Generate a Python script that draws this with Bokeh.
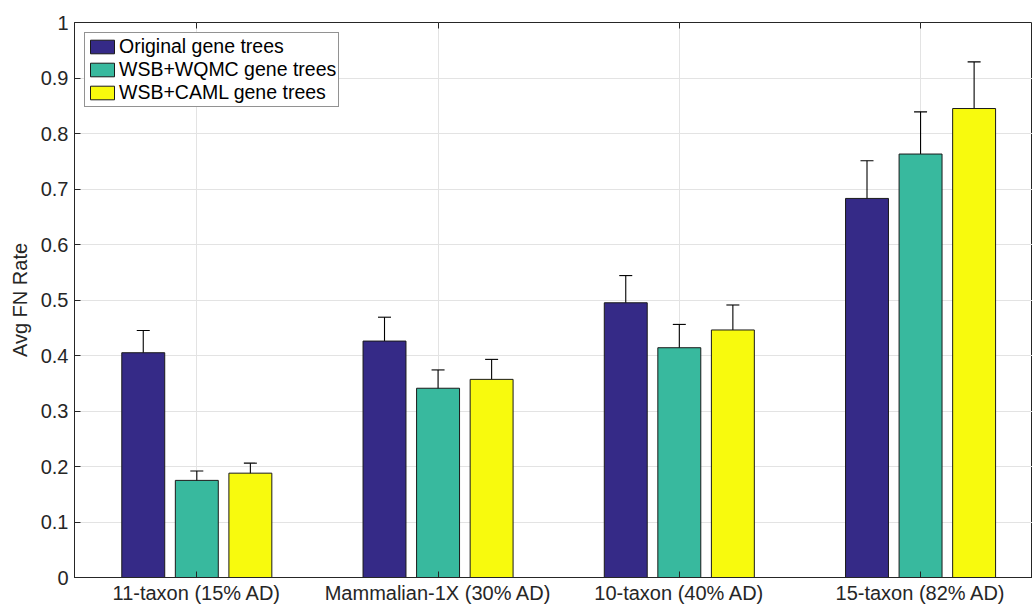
from bokeh.plotting import figure
from bokeh.models import (Range1d, ColumnDataSource, Whisker, TeeHead, Legend, LegendItem,
                          FixedTicker, LinearAxis)
from bokeh.transform import dodge
from bokeh.embed import file_html
from bokeh.resources import INLINE

# ---- data ----
categories = ["11-taxon (15% AD)", "Mammalian-1X (30% AD)", "10-taxon (40% AD)", "15-taxon (82% AD)"]
series_names = ["Original gene trees", "WSB+WQMC gene trees", "WSB+CAML gene trees"]
original = [0.405, 0.426, 0.495, 0.683]
original_lo = [0.364, 0.384, 0.445, 0.614]
original_hi = [0.445, 0.469, 0.544, 0.751]
wqmc = [0.175, 0.341, 0.414, 0.763]
wqmc_lo = [0.157, 0.306, 0.373, 0.686]
wqmc_hi = [0.192, 0.374, 0.456, 0.839]
caml = [0.188, 0.357, 0.446, 0.845]
caml_lo = [0.169, 0.321, 0.402, 0.760]
caml_hi = [0.206, 0.393, 0.491, 0.929]
y_ticks = [0, 0.1, 0.2, 0.3, 0.4, 0.5, 0.6, 0.7, 0.8, 0.9, 1]
y_tick_labels = ["0", "0.1", "0.2", "0.3", "0.4", "0.5", "0.6", "0.7", "0.8", "0.9", "1"]

colors = ["#352a87", "#38b99e", "#f8fa0d"]
FONT = "Liberation Sans"
TXT = "#262626"

xpos = [1, 2, 3, 4]
src = ColumnDataSource(dict(
    x=xpos,
    s0=original, s0lo=original_lo, s0hi=original_hi,
    s1=wqmc, s1lo=wqmc_lo, s1hi=wqmc_hi,
    s2=caml, s2lo=caml_lo, s2hi=caml_hi,
))

p = figure(width=1032, height=606, output_backend="svg", toolbar_location=None,
           x_range=Range1d(0.493, 4.464), y_range=Range1d(0, 1),
           min_border_left=74, min_border_right=0, min_border_top=22, min_border_bottom=28)
p.background_fill_color = "white"
p.border_fill_color = "white"
p.outline_line_color = TXT
p.outline_line_width = 1

offsets = [-0.222, 0.0, 0.222]
bar_w = 0.178
renderers = []
for i, off in enumerate(offsets):
    r = p.vbar(x=dodge("x", off, range=p.x_range), top=f"s{i}", width=bar_w, source=src,
               fill_color=colors[i], line_color="#1a1a1a", line_width=1)
    renderers.append(r)
    w = Whisker(base=dodge("x", off, range=p.x_range), upper=f"s{i}hi", lower=f"s{i}lo",
                source=src, line_color="black", line_width=1.1,
                upper_head=TeeHead(size=13, line_color="black", line_width=1.1),
                lower_head=TeeHead(size=13, line_color="black", line_width=1.1))
    p.add_layout(w)

# axes
p.xaxis.ticker = FixedTicker(ticks=xpos)
p.xaxis.major_label_overrides = {x: c for x, c in zip(xpos, categories)}
p.yaxis.ticker = FixedTicker(ticks=y_ticks)
p.yaxis.major_label_overrides = {t: l for t, l in zip(y_ticks, y_tick_labels)}
p.yaxis.axis_label = "Avg FN Rate"
for ax in (p.xaxis[0], p.yaxis[0]):
    ax.axis_line_color = TXT
    ax.major_tick_line_color = TXT
    ax.major_tick_in = 6
    ax.major_tick_out = 0
    ax.minor_tick_line_color = None
    ax.major_label_text_font = FONT
    ax.major_label_text_font_size = "20px"
    ax.major_label_text_color = TXT
    ax.axis_label_text_font = FONT
    ax.axis_label_text_font_size = "20px"
    ax.axis_label_text_font_style = "normal"
    ax.axis_label_text_color = TXT
p.xaxis.major_label_standoff = 4
p.yaxis.major_label_standoff = 6
p.yaxis.axis_label_standoff = 7

top_ax = LinearAxis(ticker=FixedTicker(ticks=xpos), axis_line_color=None,
                    major_tick_in=6, major_tick_out=0,
                    major_tick_line_color=TXT, minor_tick_line_color=None,
                    major_label_standoff=0, major_label_text_font_size="1px",
                    major_label_overrides={x: "" for x in xpos})
p.add_layout(top_ax, "above")

p.xgrid.ticker = FixedTicker(ticks=xpos)
p.xgrid.grid_line_color = "#e3e3e3"
p.ygrid.grid_line_color = "#e3e3e3"
p.xgrid.grid_line_width = 1
p.ygrid.grid_line_width = 1

legend = Legend(items=[LegendItem(label=n, renderers=[r]) for n, r in zip(series_names, renderers)],
                location="top_left")
legend.margin = 10
legend.padding = 2
legend.spacing = 0
legend.glyph_width = 30
legend.glyph_height = 17
legend.label_height = 20
legend.label_standoff = 2
legend.label_text_font = FONT
legend.label_text_font_size = "19.5px"
legend.label_text_color = "black"
legend.label_text_line_height = 1.0
legend.border_line_color = TXT
legend.border_line_width = 1
legend.background_fill_alpha = 1
p.add_layout(legend)

open("out.html", "w").write(file_html(p, INLINE))
